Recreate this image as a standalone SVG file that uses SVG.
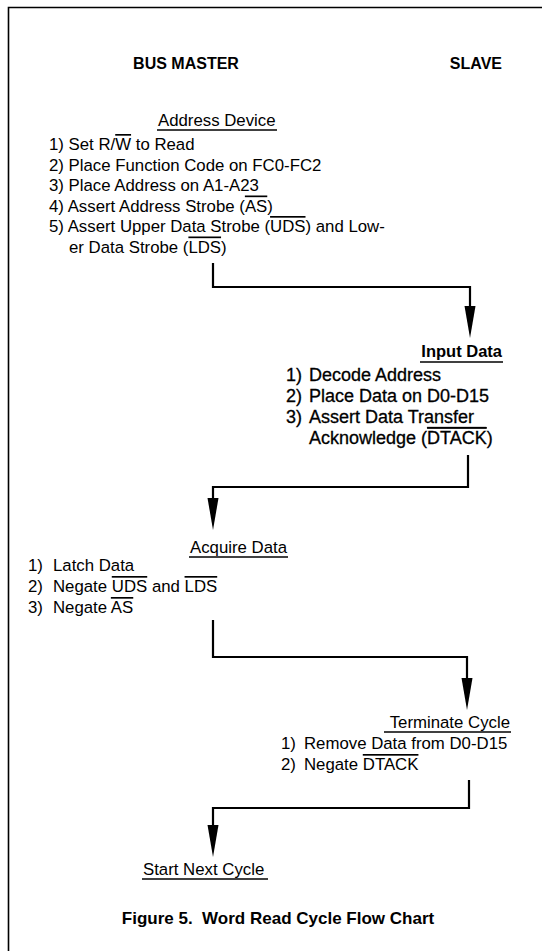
<svg xmlns="http://www.w3.org/2000/svg" width="542" height="951" viewBox="0 0 542 951">
<style>
text{font-family:"Liberation Sans",Arial,Helvetica,sans-serif;font-size:16.8px;fill:#000}
.b{font-weight:bold}
.hd{font-weight:bold;font-size:16px}
.s{font-size:18px;stroke:#000;stroke-width:0.3}
.ol{text-decoration:overline}
.ul{stroke:#000;stroke-width:1.7;fill:none}
.frame{stroke:#000;stroke-width:1.6;fill:none}
.conn{stroke:#000;stroke-width:2.2;fill:none;marker-end:url(#arr)}
</style>
<defs>
<marker id="arr" markerUnits="userSpaceOnUse" viewBox="-2 -6 32 12" markerWidth="32" markerHeight="12" refX="0" refY="0" orient="auto">
<path d="M30,0 L-2,-5.5 L-2,5.5 Z" fill="#000"/>
</marker>
</defs>
<g id="frame">
<path class="frame" d="M8.5,951 V7.5 H542"/>
</g>
<g id="col-master"><text class="hd" x="186" y="69" text-anchor="middle">BUS MASTER</text></g>
<g id="col-slave"><text class="hd" x="502" y="69" text-anchor="end">SLAVE</text></g>
<g id="address-device">
<text x="158" y="126">Address Device</text>
<line class="ul" x1="157" y1="130" x2="277" y2="130"/>
<text x="49" y="150">1) Set R/<tspan class="ol">W</tspan> to Read</text>
<text x="49" y="170.5">2) Place Function Code on FC0-FC2</text>
<text x="49" y="191">3) Place Address on A1-A23</text>
<text x="49" y="211.5">4) Assert Address Strobe (<tspan class="ol">AS</tspan>)</text>
<text x="49" y="232">5) Assert Upper Data Strobe (<tspan class="ol">UDS</tspan>) and Low-</text>
<text x="69" y="252.5">er Data Strobe (<tspan class="ol">LDS</tspan>)</text>
</g>
<g id="input-data">
<text class="b" x="502" y="357" text-anchor="end" style="font-size:16.5px">Input Data</text>
<line class="ul" x1="420" y1="362" x2="503" y2="362"/>
<text class="s" x="286" y="381">1)</text><text class="s" x="309" y="381">Decode Address</text>
<text class="s" x="286" y="402">2)</text><text class="s" x="309" y="402">Place Data on D0-D15</text>
<text class="s" x="286" y="423">3)</text><text class="s" x="309" y="423">Assert Data Transfer</text>
<text class="s" x="309" y="444">Acknowledge (<tspan class="ol">DTACK</tspan>)</text>
</g>
<g id="acquire-data">
<text x="190" y="553">Acquire Data</text>
<line class="ul" x1="189" y1="557" x2="288" y2="557"/>
<text x="28" y="571">1)</text><text x="53" y="571">Latch Data</text>
<text x="28" y="592">2)</text><text x="53" y="592">Negate <tspan class="ol">UDS</tspan> and <tspan class="ol">LDS</tspan></text>
<text x="28" y="613">3)</text><text x="53" y="613">Negate <tspan class="ol">AS</tspan></text>
</g>
<g id="terminate-cycle">
<text x="510" y="728" text-anchor="end">Terminate Cycle</text>
<line class="ul" x1="384" y1="732" x2="511" y2="732"/>
<text x="281" y="749">1)</text><text x="304" y="749">Remove Data from D0-D15</text>
<text x="281" y="770">2)</text><text x="304" y="770">Negate <tspan class="ol">DTACK</tspan></text>
</g>
<g id="start-next-cycle">
<text x="143" y="875">Start Next Cycle</text>
<line class="ul" x1="142" y1="879" x2="268" y2="879"/>
</g>
<g id="connectors">
<path class="conn" d="M213,263 V287 H470 V308"/>
<path class="conn" d="M468,455 V487 H213 V500"/>
<path class="conn" d="M213,620 V657 H467 V680"/>
<path class="conn" d="M469,780 V808 H213 V827"/>
</g>
<g id="caption"><text class="b" x="278" y="924" text-anchor="middle" style="font-size:17px">Figure 5.&#160; Word Read Cycle Flow Chart</text></g>
</svg>
